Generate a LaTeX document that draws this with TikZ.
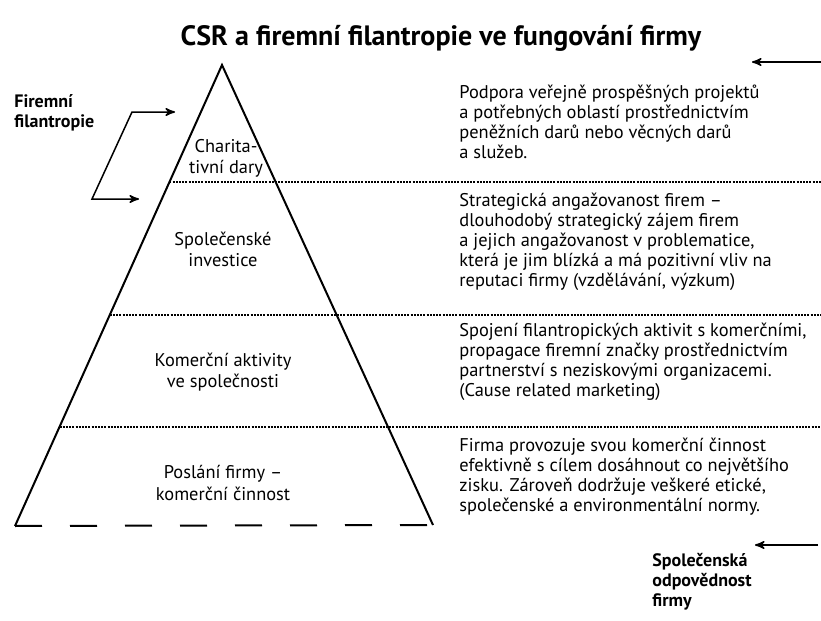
\documentclass[tikz,border=0pt]{standalone}
\usepackage{fontspec}
\setmainfont{PT Sans}
\usepackage{tikz}
\usetikzlibrary{arrows}
\usetikzlibrary{calc}
\tikzset{
    tnode/.style = {inner sep=0pt, align=center},
    heading/.style = {tnode, font=\bfseries\fontsize{14}{16}\selectfont},
    layer/.style = {tnode, font=\fontsize{9.2}{10.6}\selectfont},
    desc/.style = {tnode, anchor=west, align=left, font=\fontsize{9.2}{10}\selectfont},
    side/.style = {tnode, anchor=west, align=left, font=\bfseries\fontsize{9}{10}\selectfont},
    edge/.style = {line width=1pt, line join=miter},
    sep/.style = {line width=0.7pt, dash pattern=on 1pt off 0.6pt},
    base/.style = {line width=1pt, dash pattern=on 13.5pt off 14pt},
    arr/.style = {line width=0.75pt, ->, >=stealth'}
}
\begin{document}
\begin{tikzpicture}[x=0.5pt,y=-0.5pt]
\useasboundingbox (0,0) rectangle (821,621);
\node [heading] (title) at (441,38) {CSR a firemní filantropie ve fungování firmy};

\coordinate (apex) at (222,65);
\coordinate (bl) at (15,526);
\coordinate (br) at (433,525);
\draw [edge] (bl) -- (apex) -- (br);
\draw [base] (bl) -- (br);

\coordinate (s1) at ($(bl)!0.746!(apex)$);
\coordinate (s2) at ($(bl)!0.458!(apex)$);
\coordinate (s3) at ($(bl)!0.215!(apex)$);
\coordinate (e1) at (821,182);
\coordinate (e2) at (821,315);
\coordinate (e3) at (821,427);
\draw [sep] (s1) -- (s1 -| e1);
\draw [sep] (s2) -- (s2 -| e2);
\draw [sep] (s3) -- (s3 -| e3);

\node [layer] (charita) at (226,158) {Charita-\\tivní dary};
\node [layer] (investice) at (223,249) {Společenské\\investice};
\node [layer] (aktivity) at (223,372) {Komerční aktivity\\ve společnosti};
\node [layer] (poslani) at (223,483) {Poslání firmy –\\komerční činnost};

\node [desc] (d1) at (459,122) {Podpora veřejně prospěšných projektů\\a potřebných oblastí prostřednictvím\\peněžních darů nebo věcných darů\\a služeb.};
\node [desc] (d2) at (459,242) {Strategická angažovanost firem –\\dlouhodobý strategický zájem firem\\a jejich angažovanost v problematice,\\která je jim blízká a má pozitivní vliv na\\reputaci firmy (vzdělávání, výzkum)};
\node [desc] (d3) at (459,362) {Spojení filantropických aktivit s komerčními,\\propagace firemní značky prostřednictvím\\partnerství s neziskovými organizacemi.\\(Cause related marketing)};
\node [desc] (d4) at (459,477) {Firma provozuje svou komerční činnost\\efektivně s cílem dosáhnout co největšího\\zisku. Zároveň dodržuje veškeré etické,\\společenské a environmentální normy.};

\node [side] (filantropie) at (14,113) {Firemní\\filantropie};
\coordinate (ftop) at (175,112);
\coordinate (fa) at (132,112);
\coordinate (fb) at (92,199);
\coordinate (fbot) at (139,199);
\draw [arr, <->] (ftop) -- (fa) -- (fb) -- (fbot);

\coordinate (tfrom) at (821,62);
\coordinate (tto) at (752,62);
\draw [arr] (tfrom) -- (tto);

\node [side] (csr) at (652,582) {Společenská\\odpovědnost\\firmy};
\coordinate (bfrom) at (818,545);
\coordinate (bto) at (755,545);
\draw [arr] (bfrom) -- (bto);
\end{tikzpicture}
\end{document}
